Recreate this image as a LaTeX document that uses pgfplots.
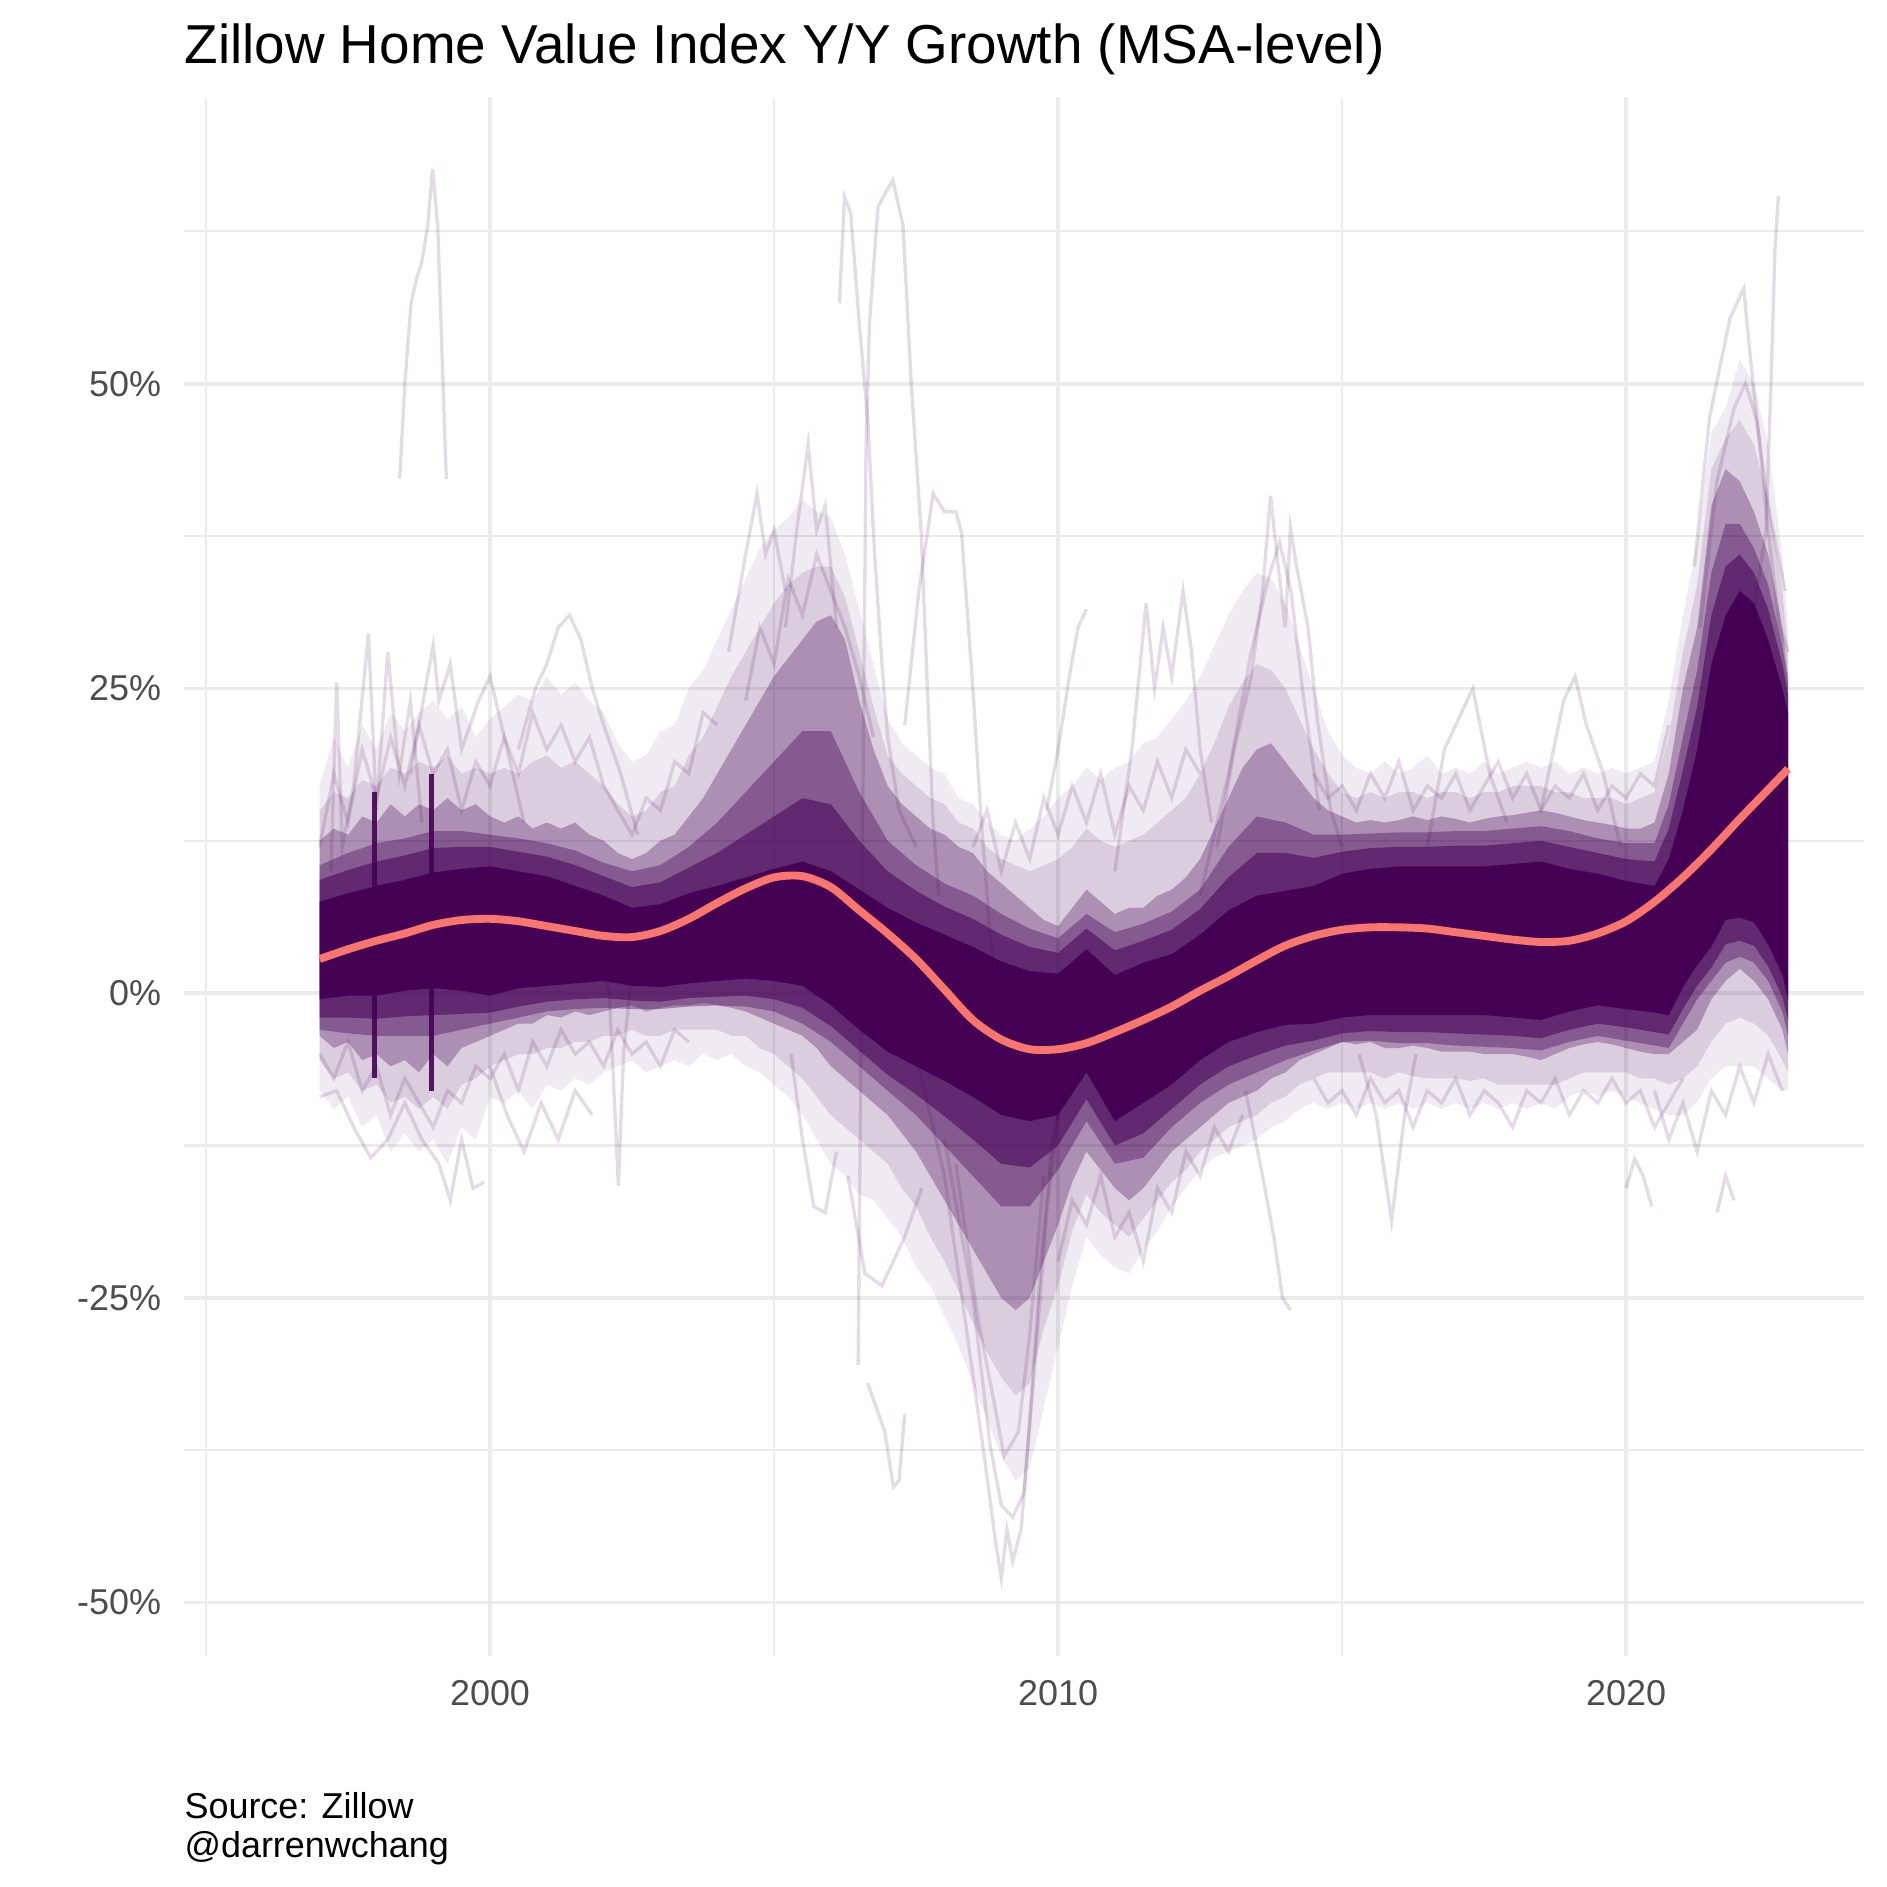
\documentclass[border=0pt]{standalone}
\usepackage{fontspec}
\setmainfont{Liberation Sans}
\usepackage{pgfplots}
\usepackage{pgfplotstable}
\pgfplotsset{compat=1.18}
\usepgfplotslibrary{fillbetween}
\definecolor{vir}{HTML}{440154}
\definecolor{sal}{HTML}{F8766D}
\definecolor{gridc}{HTML}{EBEBEB}
\definecolor{tickc}{HTML}{4D4D4D}

% inner bands: core (c), inner2 (j), inner (i) : lower / upper (%)
\pgfplotstableread{
x       clo   chi   jlo   jhi   ilo   ihi
1997.0  -0.5  7.5   -2.0  9.3   -3.0  10.5
1997.5  -0.2  8.2   -2.0  10.1  -3.3  11.5
1998.0  -0.2  8.8   -2.1  10.8  -3.5  12.3
1998.5  0.2   9.3   -1.9  11.3  -3.5  12.7
1999.0  0.4   9.9   -1.8  11.9  -3.5  13.3
1999.5  0.2   10.2  -1.7  12.0  -3.0  13.3
2000.0  -0.2  10.4  -1.6  12.0  -2.5  13.0
2000.5  0.4   10.0  -1.1  11.6  -2.0  12.7
2001.0  0.6   9.6   -0.7  11.2  -1.5  12.3
2001.5  0.8   8.8   -0.5  10.5  -1.3  11.7
2002.0  1.0   8.0   -0.4  9.6   -1.2  10.7
2002.5  0.6   7.0   -0.6  8.7   -1.3  10.0
2003.0  0.5   7.3   -0.7  9.1   -1.3  10.5
2003.5  0.8   8.2   -0.4  10.3  -1.1  12.0
2004.0  1.0   8.8   -0.3  11.5  -1.0  14.0
2004.5  1.2   9.5   -0.2  13.0  -1.1  16.5
2005.0  1.0   10.2  -0.5  14.5  -1.5  19.0
2005.5  0.6   10.8  -1.2  16.0  -2.5  21.5
2006.0  -1.0  10.0  -2.7  15.5  -4.0  21.5
2006.5  -3.0  8.5   -4.7  12.5  -6.0  16.5
2007.0  -4.8  7.0   -6.7  10.0  -8.0  12.5
2007.5  -6.0  5.8   -8.3  8.4   -10.0 10.5
2008.0  -7.2  4.8   -10.1 7.1   -12.5 9.0
2008.5  -8.5  3.8   -12.0 6.1   -15.0 8.0
2009.0  -10.0 2.6   -14.0 4.8   -17.5 6.5
2009.5  -10.5 1.8   -14.3 3.8   -17.5 5.3
2010.0  -10.0 1.6   -12.5 3.3   -14.5 4.5
2010.5  -6.5  3.6   -8.7  5.3   -10.5 6.5
2011.0  -10.5 1.5   -12.5 3.5   -14.0 5.0
2011.5  -9.0  2.5   -11.5 4.3   -13.5 5.7
2012.0  -7.5  3.2   -9.5  5.2   -11.0 6.7
2012.5  -5.5  4.8   -7.5  6.9   -9.0  8.5
2013.0  -4.0  6.8   -6.0  9.5   -7.5  12.0
2013.5  -3.2  8.0   -5.1  11.5  -6.5  14.5
2014.0  -2.6  8.4   -4.3  11.5  -5.5  14.0
2014.5  -2.5  8.8   -3.9  11.1  -4.7  13.0
2015.0  -2.0  9.8   -3.3  11.6  -4.0  13.0
2015.5  -1.8  10.2  -3.1  11.9  -3.9  13.1
2016.0  -1.8  10.4  -3.2  12.0  -4.1  13.2
2016.5  -1.8  10.4  -3.2  12.0  -4.1  13.2
2017.0  -1.8  10.4  -3.3  12.1  -4.3  13.3
2017.5  -1.8  10.4  -3.4  12.1  -4.4  13.3
2018.0  -2.0  10.6  -3.5  12.3  -4.5  13.5
2018.5  -2.2  10.8  -3.7  12.5  -4.7  13.7
2019.0  -1.5  10.2  -3.0  12.0  -4.0  13.3
2019.5  -1.0  9.8   -2.5  11.5  -3.5  12.7
2020.0  -1.3  9.2   -2.8  11.0  -3.9  12.3
2020.5  -1.6  8.8   -3.2  10.8  -4.3  12.3
2020.75 -1.8  11.0  -3.4  13.5  -4.5  15.5
2021.0  0.5   15.0  -1.3  18.3  -2.5  21.0
2021.25 2.3   20.0  0.6   23.5  -0.5  26.5
2021.5  3.8   27.0  2.1   31.0  1.0   34.5
2021.75 6.0   31.0  4.0   35.0  2.5   38.5
2022.0  6.2   33.0  4.3   36.0  3.0   38.5
2022.25 5.8   32.0  3.9   34.5  2.5   36.5
2022.5  4.0   29.0  2.2   31.5  1.0   33.5
2022.75 1.5   25.0  -0.3  27.0  -1.5  28.5
2022.85 -0.5  23.0  -2.2  24.5  -3.5  25.5
}\inner

% outer bands: medium (m), medium-light (n), faint (f) : lower / upper (%)
\pgfplotstableread{
x       mlo   mhi   nlo   nhi   flo   fhi
1997.00 -3.5  12.5  -5.5  15.0  -8.0  17.0
1997.25 -4.5  13.5  -7.0  16.5  -9.5  21.0
1997.50 -4.0  13.0  -6.5  16.0  -8.5  18.5
1997.75 -5.5  14.5  -8.0  17.5  -11.0 22.0
1998.00 -5.0  14.0  -7.5  17.0  -10.0 20.0
1998.25 -6.0  15.5  -9.0  18.5  -13.0 23.0
1998.50 -5.5  14.5  -8.5  18.0  -11.5 21.5
1998.75 -6.5  15.5  -9.5  19.0  -13.0 23.0
1999.00 -5.0  15.0  -8.5  18.5  -12.0 24.0
1999.25 -6.0  16.0  -9.5  19.5  -14.0 22.5
1999.50 -4.5  15.0  -7.5  18.0  -11.0 23.5
1999.75 -4.0  15.5  -7.0  18.5  -12.0 21.0
2000.00 -3.5  14.5  -6.0  18.0  -8.5  22.5
2000.25 -3.0  14.0  -5.5  18.5  -9.0  23.5
2000.50 -2.5  14.5  -5.0  18.0  -8.0  24.5
2000.75 -2.5  13.5  -5.0  19.0  -9.5  24.0
2001.00 -1.8  14.0  -4.5  19.5  -7.5  26.0
2001.25 -2.0  13.5  -4.5  18.5  -8.0  24.5
2001.50 -1.5  14.0  -4.0  19.0  -7.0  25.5
2001.75 -1.8  13.0  -4.0  18.0  -7.5  24.0
2002.00 -1.5  12.5  -3.5  17.0  -6.5  23.0
2002.25 -1.2  11.5  -3.5  15.5  -6.0  20.5
2002.50 -1.0  11.0  -3.0  14.5  -5.5  19.0
2002.75 -1.5  11.5  -3.5  15.0  -6.5  19.5
2003.00 -1.2  12.5  -3.5  16.5  -6.0  21.5
2003.25 -1.0  13.0  -3.0  17.0  -5.5  22.0
2003.50 -1.0  14.5  -3.0  19.5  -6.0  25.0
2003.75 -0.8  16.0  -3.0  21.0  -5.0  26.5
2004.00 -1.0  18.0  -3.0  23.5  -5.5  29.0
2004.25 -1.2  20.0  -3.5  26.0  -5.0  31.5
2004.50 -1.5  22.0  -3.5  28.0  -6.0  34.0
2004.75 -2.0  24.0  -4.5  30.0  -6.5  36.5
2005.00 -2.5  26.0  -5.0  32.0  -7.5  38.0
2005.25 -3.0  27.5  -6.0  33.5  -8.5  39.0
2005.50 -3.5  29.0  -7.0  34.5  -10.0 40.5
2005.75 -4.5  30.5  -8.5  35.0  -12.0 39.5
2006.00 -6.0  31.0  -10.0 35.0  -14.0 39.0
2006.25 -7.0  29.0  -11.0 32.5  -15.0 36.0
2006.50 -8.0  24.0  -12.0 28.0  -16.5 31.5
2006.75 -9.0  20.0  -13.0 23.5  -17.0 27.0
2007.00 -10.0 17.0  -14.0 19.5  -18.5 22.5
2007.25 -11.5 15.5  -16.0 18.0  -20.0 20.5
2007.50 -13.0 14.5  -17.5 17.0  -22.5 19.5
2007.75 -15.0 13.5  -20.0 16.0  -24.0 18.5
2008.00 -17.0 13.0  -22.0 15.5  -26.5 18.0
2008.25 -19.0 12.0  -24.5 14.0  -29.0 16.0
2008.50 -21.0 11.5  -27.0 13.5  -32.0 15.5
2008.75 -23.0 10.0  -29.5 12.0  -35.0 14.0
2009.00 -25.0 9.0   -31.5 11.0  -38.0 13.0
2009.25 -26.0 8.0   -33.0 10.5  -40.0 12.5
2009.50 -25.0 7.0   -32.0 10.0  -39.0 13.5
2009.75 -22.0 6.0   -27.5 10.5  -34.0 14.5
2010.00 -19.0 5.5   -24.0 11.0  -29.0 16.0
2010.25 -15.5 7.0   -19.5 12.0  -24.0 17.0
2010.50 -13.0 8.5   -16.5 13.5  -20.0 18.5
2010.75 -14.5 7.5   -18.0 12.5  -21.5 17.5
2011.00 -16.0 6.5   -19.0 12.0  -22.5 18.5
2011.25 -17.0 7.0   -20.0 12.5  -23.0 19.0
2011.50 -16.0 7.0   -18.5 13.0  -21.0 20.5
2011.75 -14.5 8.0   -17.0 14.0  -19.5 21.0
2012.00 -13.0 8.5   -15.5 15.0  -17.5 22.5
2012.25 -12.0 9.5   -14.5 16.0  -16.0 24.0
2012.50 -11.0 11.0  -13.0 18.0  -14.5 26.0
2012.75 -10.0 13.5  -12.0 20.5  -13.5 28.5
2013.00 -9.0  16.0  -11.0 23.5  -13.0 31.0
2013.25 -8.5  18.5  -10.5 25.5  -12.5 33.0
2013.50 -8.0  20.0  -10.0 27.0  -12.0 34.5
2013.75 -7.0  20.5  -9.0  26.5  -11.0 34.0
2014.00 -6.5  19.0  -8.5  25.0  -10.5 32.0
2014.25 -5.5  17.5  -7.5  22.5  -9.5  28.5
2014.50 -5.0  16.0  -7.0  20.0  -9.0  25.0
2014.75 -4.5  15.0  -6.5  18.0  -9.5  21.5
2015.00 -4.0  14.5  -6.5  16.5  -9.0  19.5
2015.25 -4.2  14.0  -6.5  16.0  -9.5  18.5
2015.50 -4.0  14.2  -6.5  16.5  -9.0  18.0
2015.75 -4.5  14.0  -7.0  16.0  -9.5  19.0
2016.00 -4.5  14.2  -6.5  16.5  -9.0  18.0
2016.25 -4.3  14.5  -6.8  16.5  -9.5  18.5
2016.50 -4.5  14.2  -7.0  16.0  -9.0  19.5
2016.75 -4.8  14.5  -7.0  16.5  -9.5  18.0
2017.00 -4.8  14.3  -7.0  16.5  -9.0  18.5
2017.25 -4.8  14.0  -7.2  16.0  -9.5  18.0
2017.50 -5.0  14.3  -7.0  16.5  -9.0  19.0
2017.75 -5.0  14.5  -7.5  16.5  -9.5  18.0
2018.00 -5.0  14.6  -7.5  17.0  -9.0  18.5
2018.25 -5.2  14.8  -7.5  17.0  -9.5  19.0
2018.50 -5.5  15.0  -7.5  17.0  -9.0  18.5
2018.75 -5.0  14.8  -7.5  16.5  -9.5  19.0
2019.00 -4.5  14.5  -7.0  16.5  -8.5  18.0
2019.25 -4.2  14.2  -6.5  16.0  -8.0  18.5
2019.50 -4.0  14.0  -6.5  16.0  -8.5  18.0
2019.75 -4.2  13.8  -6.5  16.0  -8.0  18.5
2020.00 -4.5  13.5  -6.5  15.5  -8.5  18.0
2020.25 -4.8  13.5  -7.0  16.0  -9.0  18.5
2020.50 -5.0  14.0  -7.0  16.5  -9.5  19.0
2020.75 -5.0  18.0  -7.5  21.0  -10.0 24.0
2021.00 -4.0  25.0  -7.0  28.0  -10.0 31.0
2021.25 -3.0  30.0  -6.0  33.5  -9.0  37.0
2021.50 -0.5  40.0  -4.0  43.0  -7.0  46.0
2021.75 1.0   43.0  -2.5  45.5  -6.0  48.0
2022.00 2.0   42.0  -2.0  47.0  -6.0  52.0
2022.25 1.0   39.5  -2.5  45.0  -6.0  50.0
2022.50 -0.5  36.0  -3.5  40.5  -7.0  45.0
2022.75 -3.0  30.0  -5.5  33.0  -8.0  36.0
2022.85 -5.0  26.0  -6.5  28.0  -8.0  30.0
}\outer

\pgfplotstableread{
x y
1997.0 2.8
1997.5 3.6
1998.0 4.3
1998.5 4.9
1999.0 5.6
1999.5 6.0
2000.0 6.1
2000.5 5.9
2001.0 5.5
2001.5 5.1
2002.0 4.7
2002.5 4.6
2003.0 5.1
2003.5 6.1
2004.0 7.4
2004.5 8.6
2005.0 9.5
2005.5 9.6
2006.0 8.7
2006.5 6.8
2007.0 4.9
2007.5 2.8
2008.0 0.3
2008.5 -2.2
2009.0 -3.8
2009.5 -4.6
2010.0 -4.6
2010.5 -4.1
2011.0 -3.2
2011.5 -2.2
2012.0 -1.1
2012.5 0.2
2013.0 1.4
2013.5 2.7
2014.0 3.9
2014.5 4.7
2015.0 5.2
2015.5 5.4
2016.0 5.4
2016.5 5.3
2017.0 5.0
2017.5 4.7
2018.0 4.4
2018.5 4.2
2019.0 4.3
2019.5 4.9
2020.0 5.9
2020.5 7.5
2021.0 9.5
2021.5 11.8
2022.0 14.3
2022.5 16.7
2022.85 18.4
}\smoothline

\begin{document}
\begin{tikzpicture}
\begin{axis}[
  name=ax,
  at={(0,0)}, anchor=south west,
  scale only axis, width=448.8pt, height=416.4pt,
  xmin=1994.61, xmax=2024.19, ymin=-54.35, ymax=73.56,
  axis line style={draw=none}, tick style={draw=none},
  major tick length=0pt, minor tick length=0pt,
  xtick={2000,2010,2020}, xticklabels={2000,2010,2020},
  minor xtick={1995,2005,2015},
  ytick={-50,-25,0,25,50}, yticklabels={-50\%,-25\%,0\%,25\%,50\%},
  minor ytick={-37.5,-12.5,12.5,37.5,62.5},
  grid=both,
  major grid style={draw=gridc, line width=1.0pt},
  minor grid style={draw=gridc, line width=0.55pt},
  xticklabel style={font=\fontsize{9.6}{11}\selectfont, text=tickc, anchor=base, inner sep=0pt, yshift=-13.2pt},
  yticklabel style={font=\fontsize{9.6}{11}\selectfont, text=tickc, anchor=east, inner sep=0pt, xshift=-5.9pt},
  clip=true,
]
% band boundaries
\addplot[draw=none, name path=fhi, forget plot] table[x=x,y=fhi]{\outer};
\addplot[draw=none, name path=flo, forget plot] table[x=x,y=flo]{\outer};
\addplot[draw=none, name path=nhi, forget plot] table[x=x,y=nhi]{\outer};
\addplot[draw=none, name path=nlo, forget plot] table[x=x,y=nlo]{\outer};
\addplot[draw=none, name path=mhi, forget plot] table[x=x,y=mhi]{\outer};
\addplot[draw=none, name path=mlo, forget plot] table[x=x,y=mlo]{\outer};
\addplot[draw=none, name path=ihi, forget plot] table[x=x,y=ihi]{\inner};
\addplot[draw=none, name path=ilo, forget plot] table[x=x,y=ilo]{\inner};
\addplot[draw=none, name path=jhi, forget plot] table[x=x,y=jhi]{\inner};
\addplot[draw=none, name path=jlo, forget plot] table[x=x,y=jlo]{\inner};
\addplot[draw=none, name path=chi, forget plot] table[x=x,y=chi]{\inner};
\addplot[draw=none, name path=clo, forget plot] table[x=x,y=clo]{\inner};
\addplot[fill=vir, fill opacity=0.08, draw=none] fill between[of=fhi and flo];
\addplot[fill=vir, fill opacity=0.13, draw=none] fill between[of=nhi and nlo];
\addplot[fill=vir, fill opacity=0.30, draw=none] fill between[of=mhi and mlo];
\addplot[fill=vir, fill opacity=0.38, draw=none] fill between[of=ihi and ilo];
\addplot[fill=vir, fill opacity=0.55, draw=none] fill between[of=jhi and jlo];
\addplot[fill=vir, fill opacity=0.97, draw=none] fill between[of=chi and clo];

% vertical bars (series starts)
\addplot[vir, line width=1.3pt, opacity=0.9] coordinates {(1997.96,-7) (1997.96,16.5)};
\addplot[vir, line width=1.3pt, opacity=0.9] coordinates {(1998.97,-8) (1998.97,18)};

% individual faint series
\pgfplotsset{faint/.style={vir, line width=0.9pt, opacity=0.14}}
\addplot[faint] coordinates {(1998.41,42.2) (1998.5,50) (1998.61,56.6) (1998.7,58.5) (1998.8,60) (1998.9,62.9) (1998.99,67.6) (1999.08,62.9) (1999.17,50.4) (1999.23,42.2)};
\addplot[faint] coordinates {(2006.15,56.6) (2006.24,65.3) (2006.35,64) (2006.5,55) (2006.65,47) (2006.77,36) (2006.9,27) (2007.0,21) (2007.2,15) (2007.5,12)};
\addplot[faint] coordinates {(2006.48,-30.5) (2006.52,-10) (2006.57,20) (2006.62,45) (2006.68,55) (2006.83,64.5) (2006.94,65.5) (2007.09,66.7) (2007.27,63) (2007.41,50.4) (2007.59,37.8) (2007.7,25) (2007.8,14) (2007.9,8)};
\addplot[faint] coordinates {(2007.3,22) (2007.55,33) (2007.8,41) (2008.0,39.5) (2008.2,39.5) (2008.3,37.8) (2008.5,25) (2008.65,14) (2008.8,5) (2009.0,-2)};
\addplot[faint] coordinates {(2007.5,-5) (2008.0,-15) (2008.4,-28) (2008.7,-38) (2008.9,-45) (2009.0,-48) (2009.1,-44) (2009.2,-46.6) (2009.35,-44) (2009.5,-35) (2009.7,-22) (2009.9,-12) (2010.2,-6)};
\addplot[faint] coordinates {(2008.0,-12) (2008.5,-25) (2008.8,-37) (2009.0,-42) (2009.2,-43) (2009.4,-41) (2009.6,-30) (2009.8,-18) (2010.0,-10)};
\addplot[faint] coordinates {(2008.2,-14) (2008.6,-27) (2008.85,-33) (2009.05,-38) (2009.3,-36) (2009.5,-28) (2009.75,-15)};
\addplot[faint] coordinates {(2006.65,-32) (2006.8,-34) (2006.95,-36) (2007.1,-40.5) (2007.2,-40) (2007.3,-34.5)};
\addplot[faint] coordinates {(2006.3,-15) (2006.6,-23) (2006.9,-24) (2007.3,-20) (2007.6,-16)};
\addplot[faint] coordinates {(2009.8,15) (2010.0,20) (2010.2,26) (2010.35,30) (2010.5,31.5)};
\addplot[faint] coordinates {(2011.0,10) (2011.3,20) (2011.55,32) (2011.7,25) (2011.85,30) (2012.0,26) (2012.2,33) (2012.35,28) (2012.5,20) (2012.7,14)};
\addplot[faint] coordinates {(2012.8,12) (2013.1,20) (2013.4,26) (2013.6,33) (2013.74,40.8) (2013.85,36) (2014.0,30) (2014.09,38.2) (2014.2,35) (2014.4,30) (2014.56,22.5) (2014.8,15) (2015.0,12)};
\addplot[faint] coordinates {(2012.5,8) (2013.0,18) (2013.4,28) (2013.7,34) (2013.9,37) (2014.1,33) (2014.3,25) (2014.6,15)};
\addplot[faint] coordinates {(2013.3,-8) (2013.6,-15) (2013.8,-20) (2013.95,-25) (2014.09,-26)};
\addplot[faint] coordinates {(2015.3,-5) (2015.6,-10) (2015.87,-18.7) (2016.1,-10) (2016.3,-5)};
\addplot[faint] coordinates {(2020.0,-16) (2020.15,-13.6) (2020.3,-15) (2020.45,-17.5)};
\addplot[faint] coordinates {(2021.6,-18) (2021.75,-15) (2021.9,-17)};
\addplot[faint] coordinates {(2021.2,35) (2021.47,47.3) (2021.83,55.4) (2022.07,57.8) (2022.19,52) (2022.35,45) (2022.5,37.9) (2022.7,30) (2022.86,28)};
\addplot[faint] coordinates {(2022.2,30) (2022.46,37.9) (2022.55,50) (2022.62,61) (2022.68,65.4)};
\addplot[faint] coordinates {(2021.3,30) (2021.6,42) (2021.9,48) (2022.1,50) (2022.3,47) (2022.5,40) (2022.8,33)};
\addplot[faint] coordinates {(1997.2,10) (1997.3,25.5) (1997.4,12) (1997.6,17) (1997.86,29.5) (1998.0,15) (1998.2,28) (1998.4,18) (1998.6,24) (1998.8,14)};
\addplot[faint] coordinates {(1998.6,18) (1998.9,26) (1999.0,28.5) (1999.1,24) (1999.3,27) (1999.5,20) (1999.8,24) (2000.0,26) (2000.3,20) (2000.6,14)};
\addplot[faint] coordinates {(2000.5,20) (2000.8,25) (2001.0,27) (2001.2,30) (2001.4,31) (2001.6,29) (2001.8,25) (2002.0,22) (2002.3,18) (2002.6,13)};
\addplot[faint] coordinates {(2001.8,5) (2002.1,0) (2002.26,-15.8) (2002.35,-5) (2002.5,2)};
\addplot[faint] coordinates {(1997.0,-8.5) (1997.3,-8) (1997.6,-11) (1997.9,-13.5) (1998.2,-12) (1998.5,-9) (1998.8,-12) (1999.1,-14) (1999.3,-17) (1999.5,-12) (1999.7,-16) (1999.9,-15.5)};
\addplot[faint] coordinates {(2000.0,-6) (2000.3,-10) (2000.6,-13) (2000.9,-9) (2001.2,-12) (2001.5,-8) (2001.8,-10)};
\addplot[faint] coordinates {(2004.2,28) (2004.5,36) (2004.7,41) (2004.85,36) (2005.0,38) (2005.2,33)};
\addplot[faint] coordinates {(2005.2,30) (2005.4,38) (2005.6,45) (2005.75,38) (2005.9,40) (2006.1,30)};
\addplot[faint] coordinates {(2005.3,-5) (2005.5,-12) (2005.7,-17.5) (2005.9,-18) (2006.1,-13)};
\addplot[faint] coordinates {(2016.5,12) (2016.8,20) (2017.0,22) (2017.3,25) (2017.6,18) (2017.9,14)};
\addplot[faint] coordinates {(2018.5,15) (2018.9,24) (2019.1,26) (2019.3,22) (2019.6,18) (2019.9,12)};
% texture series inside the spread
\addplot[faint] coordinates {(1997.0,12) (1997.25,18) (1997.5,14) (1997.75,20) (1998.0,16) (1998.25,21) (1998.5,17) (1998.75,22) (1999.0,18) (1999.25,20) (1999.5,15) (1999.75,19) (2000.0,17) (2000.25,21) (2000.5,18) (2000.75,23) (2001.0,20) (2001.25,22) (2001.5,19) (2001.75,21) (2002.0,17) (2002.25,15) (2002.5,13) (2002.75,16) (2003.0,15) (2003.25,19) (2003.5,18) (2003.75,23) (2004.0,22)};
\addplot[faint] coordinates {(1997.0,-5) (1997.25,-7) (1997.5,-4) (1997.75,-8) (1998.0,-6) (1998.25,-10) (1998.5,-7) (1998.75,-9) (1999.0,-11) (1999.25,-8) (1999.5,-9) (1999.75,-6) (2000.0,-7) (2000.25,-5) (2000.5,-8) (2000.75,-4) (2001.0,-6) (2001.25,-3) (2001.5,-5) (2001.75,-4) (2002.0,-6) (2002.25,-3) (2002.5,-5) (2002.75,-4) (2003.0,-6) (2003.25,-3) (2003.5,-4)};
\addplot[faint] coordinates {(2014.5,18) (2014.75,16) (2015.0,17) (2015.25,15) (2015.5,18) (2015.75,16) (2016.0,19) (2016.25,15) (2016.5,17) (2016.75,16) (2017.0,18) (2017.25,15) (2017.5,17) (2017.75,19) (2018.0,16) (2018.25,18) (2018.5,15) (2018.75,17) (2019.0,16) (2019.25,18) (2019.5,15) (2019.75,17) (2020.0,16) (2020.25,18) (2020.5,17) (2020.75,22)};
\addplot[faint] coordinates {(2014.5,-7) (2014.75,-9) (2015.0,-8) (2015.25,-10) (2015.5,-7) (2015.75,-9) (2016.0,-8) (2016.25,-11) (2016.5,-8) (2016.75,-9) (2017.0,-7) (2017.25,-10) (2017.5,-8) (2017.75,-9) (2018.0,-11) (2018.25,-8) (2018.5,-9) (2018.75,-7) (2019.0,-10) (2019.25,-8) (2019.5,-9) (2019.75,-7) (2020.0,-9) (2020.25,-8) (2020.5,-11) (2020.75,-9) (2021.0,-7)};
\addplot[faint] coordinates {(2008.5,12) (2008.75,15) (2009.0,10) (2009.25,14) (2009.5,11) (2009.75,16) (2010.0,13) (2010.25,17) (2010.5,14) (2010.75,18) (2011.0,13) (2011.25,17) (2011.5,15) (2011.75,19) (2012.0,16) (2012.25,20) (2012.5,18)};
\addplot[faint] coordinates {(2010.0,-22) (2010.25,-17) (2010.5,-19) (2010.75,-15) (2011.0,-20) (2011.25,-18) (2011.5,-22) (2011.75,-16) (2012.0,-18) (2012.25,-13) (2012.5,-15) (2012.75,-11) (2013.0,-13) (2013.25,-10)};
\addplot[faint] coordinates {(2020.5,-8) (2020.75,-12) (2021.0,-9) (2021.25,-13) (2021.5,-8) (2021.75,-10) (2022.0,-6) (2022.25,-9) (2022.5,-5) (2022.75,-8)};
\addplot[faint] coordinates {(2004.5,24) (2004.75,30) (2005.0,27) (2005.25,34) (2005.5,31) (2005.75,36) (2006.0,33) (2006.25,30) (2006.5,26) (2006.75,21)};

% smooth trend
\addplot[sal, line width=2.1pt, smooth] table[x=x,y=y]{\smoothline};
\end{axis}
\node[anchor=base west, inner sep=0pt, font=\fontsize{14.65}{17}\selectfont] at ([yshift=8.9pt]ax.north west) {Zillow Home Value Index Y/Y Growth (MSA-level)};
\node[anchor=base west, inner sep=0pt, font=\fontsize{9.6}{11}\selectfont] at ([yshift=-43.4pt]ax.south west) {Source: Zillow};
\node[anchor=base west, inner sep=0pt, font=\fontsize{9.6}{11}\selectfont] at ([yshift=-53.8pt]ax.south west) {@darrenwchang};
\path (-49.1pt,-61.8pt) rectangle (454.9pt,442.2pt);
\end{tikzpicture}
\end{document}
